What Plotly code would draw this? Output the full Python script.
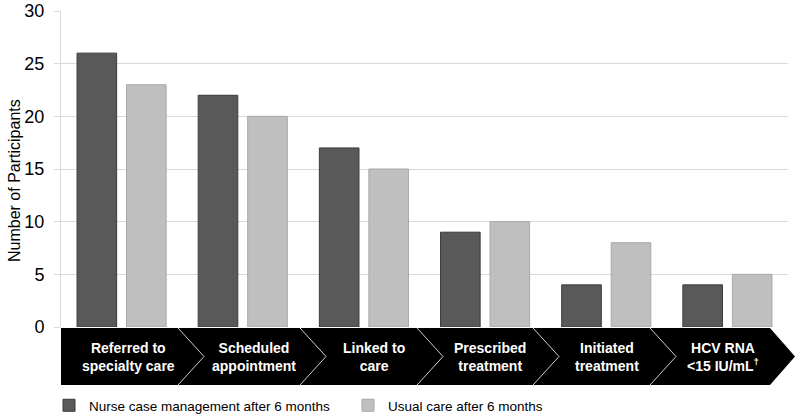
import plotly.graph_objects as go

categories = ["Referred to specialty care", "Scheduled appointment", "Linked to care",
              "Prescribed treatment", "Initiated treatment", "HCV RNA <15 IU/mL†"]
band_labels = ["Referred to<br>specialty care", "Scheduled<br>appointment", "Linked to<br>care",
               "Prescribed<br>treatment", "Initiated<br>treatment", "HCV RNA<br><15 IU/mL<sup>†</sup>"]
nurse = [26, 22, 17, 9, 4, 4]
usual = [23, 20, 15, 10, 8, 5]
series_names = ["Nurse case management after 6 months", "Usual care after 6 months"]
y_ticks = [0, 5, 10, 15, 20, 25, 30]
y_title = "Number of Participants"

W, H = 800, 414
L, R, T, B = 61, 12, 11, 87
PW = W - L - R
PH = H - T - B

def px(sx):
    return (sx - L) / PW

def py(sy):
    return (H - B - sy) / PH

FONT = "Arial, Liberation Sans, sans-serif"

fig = go.Figure()
fig.add_trace(go.Bar(x=categories, y=nurse, name=series_names[0],
                     marker=dict(color="#595959", line=dict(color="#3a3a3a", width=1))))
fig.add_trace(go.Bar(x=categories, y=usual, name=series_names[1],
                     marker=dict(color="#bfbfbf", line=dict(color="#a8a8a8", width=1))))

# chevron band
top, bot = 328, 385
mid = (top + bot) / 2
band = (f"M {px(61)},{py(top)} L {px(770)},{py(top)} L {px(795)},{py(mid)} "
        f"L {px(770)},{py(bot)} L {px(61)},{py(bot)} Z")
shapes = [dict(type="path", xref="paper", yref="paper", path=band,
               fillcolor="black", line=dict(width=0), layer="above")]
for t in [178, 300, 417, 533, 650]:
    shapes.append(dict(type="path", xref="paper", yref="paper",
                       path=f"M {px(t)},{py(top)} L {px(t+26)},{py(mid)} L {px(t)},{py(bot)}",
                       line=dict(color="#cfcfcf", width=1), layer="above"))

centers = [128, 254, 374, 490, 607, 723]
annotations = []
for c, lab in zip(centers, band_labels):
    annotations.append(dict(x=px(c), y=py(mid), xref="paper", yref="paper", text="<b>" + lab + "</b>",
                            showarrow=False, xanchor="center", yanchor="middle",
                            font=dict(family=FONT, size=14, color="white"),
                            align="center"))
annotations.append(dict(x=px(14), y=py(181), xref="paper", yref="paper",
                        text=y_title, textangle=-90, showarrow=False,
                        xanchor="center", yanchor="middle",
                        font=dict(family=FONT, size=16, color="black")))

fig.update_layout(
    width=W, height=H,
    margin=dict(l=L, r=R, t=T, b=B, autoexpand=False),
    plot_bgcolor="white", paper_bgcolor="white",
    font=dict(family=FONT, color="black"),
    barmode="group", bargap=0.183, bargroupgap=0.2,
    shapes=shapes, annotations=annotations,
    xaxis=dict(showticklabels=False, showline=False, showgrid=False, ticks=""),
    yaxis=dict(range=[0, 30], tickvals=y_ticks, showgrid=True, gridcolor="#d9d9d9",
               gridwidth=1, showline=True, linecolor="#d9d9d9", ticks="outside",
               ticklen=6, tickcolor="#d9d9d9", zeroline=False,
               tickfont=dict(size=18, color="black"), ticklabelstandoff=6,
               ticklabeloverflow="allow", automargin=False),
    legend=dict(orientation="h", xref="container", yref="container",
                x=49 / W, y=(H - 390) / H, xanchor="left", yanchor="top",
                font=dict(size=13.5, color="black"), entrywidth=254, entrywidthmode="pixels",
                itemwidth=30, traceorder="normal"),
    showlegend=True,
)

fig.write_html("out.html", config={"displayModeBar": False},
               post_script="document.body.style.margin='0px';")
